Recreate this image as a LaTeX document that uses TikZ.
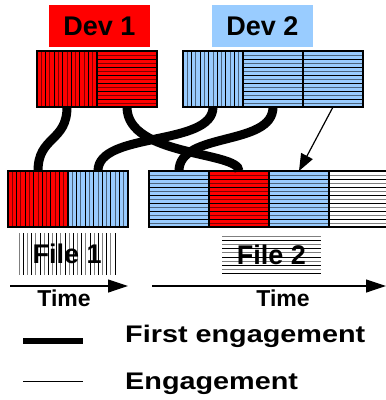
\documentclass[tikz,border=0pt]{standalone}
\usepackage{fontspec}
\setmainfont{Liberation Sans}
\newfontfamily\legendfont{Liberation Sans}[FakeStretch=1.2]
\usetikzlibrary{arrows.meta,calc,positioning}

\definecolor{devred}{HTML}{FF0000}
\definecolor{devblue}{HTML}{99CCFF}

\begin{document}
\begin{tikzpicture}[x=1pt,y=-1pt,
  cell/.style={draw,line width=1.8pt,minimum width=60pt,minimum height=56pt,inner sep=0pt,outer sep=0pt},
  vstripes/.style={path picture={
    \foreach \k in {1,...,#1}{
      \pgfmathsetmacro\f{\k/(#1+1)}
      \pgfmathsetmacro\o{mod(\k,2)==0 ? 1 : 0.5}
      \draw[line width=1pt,opacity=\o]
        ($(path picture bounding box.north west)!\f!(path picture bounding box.north east)$) --
        ($(path picture bounding box.south west)!\f!(path picture bounding box.south east)$);}}},
  hstripes/.style={path picture={
    \foreach \k in {1,...,#1}{
      \pgfmathsetmacro\f{\k/(#1+1)}
      \pgfmathsetmacro\o{mod(\k,2)==0 ? 1 : 0.5}
      \draw[line width=1pt,opacity=\o]
        ($(path picture bounding box.north west)!\f!(path picture bounding box.south west)$) --
        ($(path picture bounding box.north east)!\f!(path picture bounding box.south east)$);}}},
  devlabel/.style={minimum width=101pt,minimum height=42pt,inner sep=0pt,font=\fontsize{27}{27}\selectfont\bfseries},
  filelabel/.style={inner sep=0pt,font=\fontsize{27}{27}\selectfont\bfseries},
  timelabel/.style={inner sep=0pt,anchor=base,font=\fontsize{23}{23}\selectfont\bfseries},
  legend/.style={inner sep=0pt,anchor=base west,font=\legendfont\fontsize{24}{24}\selectfont\bfseries},
  first/.style={line width=9pt},
  tip/.style={line width=1.2pt,-{Triangle[length=20pt,width=13pt]}}
]
\useasboundingbox (0,0) rectangle (386,400);

\node[devlabel,fill=devred] (lab1) at (99.5,26) {Dev 1};
\node[devlabel,fill=devblue] (lab2) at (262.5,26) {Dev 2};

\node[cell,fill=devred,vstripes=13] (d1a) at (67,79) {};
\node[cell,fill=devred,hstripes=13,right=0pt of d1a] (d1b) {};
\node[cell,fill=devblue,vstripes=13] (d2a) at (213,79) {};
\node[cell,fill=devblue,hstripes=13,right=0pt of d2a] (d2b) {};
\node[cell,fill=devblue,hstripes=13,right=0pt of d2b] (d2c) {};

\node[cell,fill=devred,vstripes=13] (f1a) at (38,199) {};
\node[cell,fill=devblue,vstripes=13,right=0pt of f1a] (f1b) {};
\node[cell,fill=devblue,hstripes=13] (f2a) at (179,199) {};
\node[cell,fill=devred,hstripes=13,right=0pt of f2a] (f2b) {};
\node[cell,fill=devblue,hstripes=13,right=0pt of f2b] (f2c) {};
\node[cell,fill=white,hstripes=13,right=0pt of f2c] (f2d) {};

\draw[first] (d1a.south) .. controls +(0,35) and +(0,-35) .. (f1a.north);
\draw[first] (d1b.south) .. controls +(0,50) and +(0,-20) .. (f2b.north);
\draw[first] (d2a.south) .. controls +(0,40) and +(0,-40) .. (f1b.north);
\draw[first] (d2b.south) .. controls +(0,40) and +(0,-40) .. (f2a.north);
\draw[line width=1.2pt,-{Triangle[length=17pt,width=13pt]}] (d2c.south) -- (f2c.north);

\node[filelabel,minimum width=104pt,minimum height=42pt,vstripes=24] (file1) at (67.2,254) {File 1};
\node[filelabel,minimum width=99pt,minimum height=46.4pt,hstripes=10] (file2) at (271.5,255) {File 2};

\coordinate (t1s) at (10,286);
\coordinate (t1e) at (128,286);
\coordinate (t2s) at (152,286);
\coordinate (t2e) at (386,286);
\draw[tip] (t1s) -- (t1e);
\draw[tip] (t2s) -- (t2e);
\node[timelabel] (time1) at (64,306) {Time};
\node[timelabel] (time2) at (283,306) {Time};

\coordinate (k1a) at (23,341);
\coordinate (k1b) at (83,341);
\coordinate (k2a) at (23,381);
\coordinate (k2b) at (83,381);
\draw[line width=6.5pt] (k1a) -- (k1b);
\draw[line width=1pt] (k2a) -- (k2b);
\node[legend] (lg1) at (125,342) {First engagement};
\node[legend] (lg2) at (125,389) {Engagement};
\end{tikzpicture}
\end{document}
